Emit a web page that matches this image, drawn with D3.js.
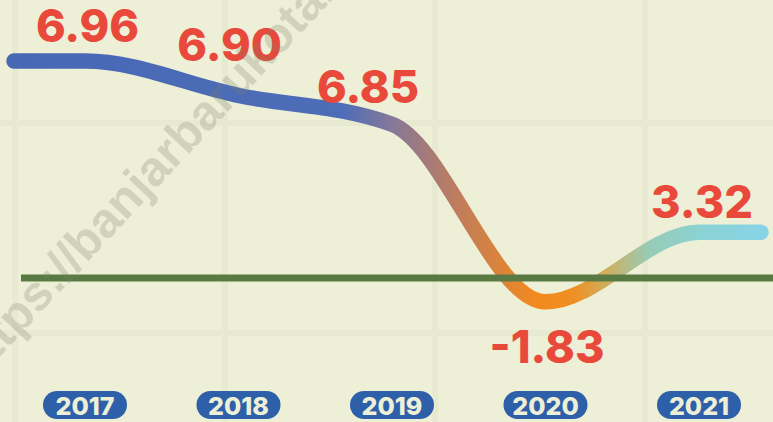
<!DOCTYPE html>
<html>
<head>
<meta charset="utf-8">
<script src="https://cdn.jsdelivr.net/npm/d3@7"></script>
<style>
  html, body { margin: 0; padding: 0; background: #edefd6; }
  svg { display: block; }
</style>
</head>
<body>
<svg id="chart" width="773" height="422"></svg>
<script>
// ---- data ----
const years = ["2017", "2018", "2019", "2020", "2021"];
const growth = [6.96, 6.90, 6.85, -1.83, 3.32];
const valueLabels = ["6.96", "6.90", "6.85", "-1.83", "3.32"];
const watermarkText = "https://banjarbarukota.go.id";

// ---- layout ----
const W = 773, H = 422;
const svg = d3.select("#chart");

// infographic (not-to-scale) vertical scale
const y = d3.scaleLinear().domain([-2, 0, 4, 6.8, 7]).range([304, 278, 223, 153, 38]);
const x = d3.scalePoint().domain(years).range([85, 699]);
const lineStart = 14, lineEnd = 761;

// background
svg.append("rect").attr("width", W).attr("height", H).attr("fill", "#edefd6");

// faint grid
const gridStep = 210;
svg.append("g").selectAll("line.v")
  .data(d3.range(15, W, gridStep)).join("line")
  .attr("x1", d => d).attr("x2", d => d).attr("y1", 0).attr("y2", H)
  .attr("stroke", "#e7e9d0").attr("stroke-width", 6);
svg.append("g").selectAll("line.h")
  .data(d3.range(123, H, gridStep)).join("line")
  .attr("x1", 0).attr("x2", W).attr("y1", d => d).attr("y2", d => d)
  .attr("stroke", "#e7e9d0").attr("stroke-width", 6);

// gradient along the line
const defs = svg.append("defs");
const grad = defs.append("linearGradient").attr("id", "lineGrad")
  .attr("gradientUnits", "userSpaceOnUse")
  .attr("x1", lineStart).attr("x2", lineEnd).attr("y1", 0).attr("y2", 0);
const stops = [
  [0, "#4768b5"], [0.44, "#4e6db8"], [0.505, "#85789a"], [0.595, "#c07d5c"],
  [0.70, "#f28a1e"], [0.748, "#f08e22"], [0.795, "#cdb060"], [0.85, "#97cbb6"],
  [0.915, "#8bd2d2"], [1, "#88d4e6"]
];
grad.selectAll("stop").data(stops).join("stop")
  .attr("offset", d => d[0]).attr("stop-color", d => d[1]);

// line data: points + extension to both ends
const pts = years.map((yr, i) => ({ x: x(yr), v: growth[i] }));
const linePts = [{ x: lineStart, v: growth[0] }, ...pts, { x: lineEnd, v: growth[growth.length - 1] }];
const line = d3.line().x(d => d.x).y(d => y(d.v)).curve(d3.curveMonotoneX);

svg.append("path").datum(linePts)
  .attr("d", line)
  .attr("fill", "none")
  .attr("stroke", "url(#lineGrad)")
  .attr("stroke-width", 15.5)
  .attr("stroke-linecap", "round")
  .attr("stroke-linejoin", "round");

// zero line (on top)
svg.append("line")
  .attr("x1", 21).attr("x2", W)
  .attr("y1", y(0)).attr("y2", y(0))
  .attr("stroke", "#5a7a44").attr("stroke-width", 7);

// value labels
const labelNudge = [[2.5, -19], [-9, -35], [-24, -21], [1.5, 61], [3, -14]];
svg.append("g").selectAll("text")
  .data(pts).join("text")
  .attr("x", (d, i) => d.x + labelNudge[i][0])
  .attr("y", (d, i) => y(d.v) + labelNudge[i][1])
  .attr("text-anchor", "middle")
  .attr("font-family", "Inter, 'Open Sans', sans-serif")
  .attr("font-weight", 800)
  .attr("font-size", 45)
  .attr("fill", "#e8493a")
  .text((d, i) => valueLabels[i]);

// year pills
const pill = svg.append("g").selectAll("g")
  .data(years).join("g")
  .attr("transform", d => `translate(${x(d)},405)`);
pill.append("rect")
  .attr("x", -42).attr("y", -14).attr("width", 84).attr("height", 28)
  .attr("rx", 14).attr("fill", "#2e5fa9");
pill.append("text")
  .attr("text-anchor", "middle").attr("y", 9.5)
  .attr("font-family", "Inter, 'Open Sans', sans-serif")
  .attr("font-weight", 800).attr("font-size", 25)
  .attr("fill", "#edf0d6")
  .text(d => d);

// watermark
svg.append("text")
  .attr("transform", "translate(-25,383) rotate(-47)")
  .attr("font-family", "'Liberation Sans', Arial, sans-serif")
  .attr("font-weight", 700)
  .attr("font-size", 49)
  .attr("fill", "#7d7f68")
  .attr("fill-opacity", 0.25)
  .text(watermarkText);
</script>
</body>
</html>
